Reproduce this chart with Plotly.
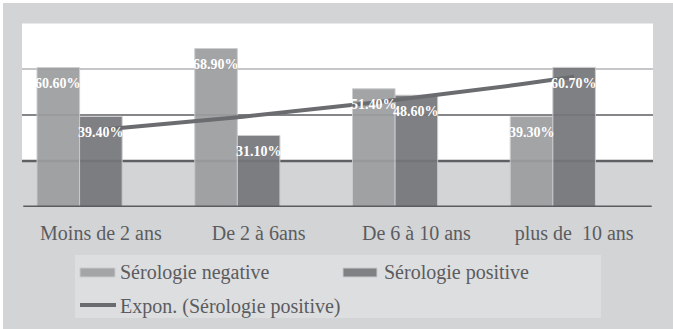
import numpy as np
import plotly.graph_objects as go

# ---- data -------------------------------------------------------------
categories = ["Moins de 2 ans", "De 2 à 6ans", "De 6 à 10 ans", "plus de \u00a010 ans"]
negative = [60.6, 68.9, 51.4, 39.3]
positive = [39.4, 31.1, 48.6, 60.7]
series_names = ["Sérologie negative", "Sérologie positive", "Expon. (Sérologie positive)"]
grid_levels = [20, 40, 60, 80]

# ---- styling ----------------------------------------------------------
W, H = 673, 329
ML, MR, MT, MB = 22, 20, 23, 122
FRAME = "#d3d4d6"
NEG_COLOR = "#9c9d9f"
POS_COLOR = "#757679"
EDGE = "#c9cacc"
TREND = "#6b6c6f"
TEXT = "#5b5c5f"
SERIF = "Liberation Serif, Times New Roman, serif"
BAR_W = 0.27
NEG_OFF = -0.405
POS_OFF = -0.135
grid_styles = {20: ("#5f6063", 2.5), 40: ("#858689", 2), 60: ("#c5c6c8", 2), 80: ("#e1e2e3", 1.5)}

pw, ph = W - ML - MR, H - MT - MB


def pxx(x):
    return (x - ML) / pw


def pxy(y):
    return (H - MB - y) / ph


x = np.arange(len(categories))

fig = go.Figure()
fig.add_trace(go.Bar(
    x=x, y=negative, name=series_names[0], width=BAR_W, offset=NEG_OFF,
    marker=dict(color=NEG_COLOR, line=dict(color=EDGE, width=1)), opacity=0.92,
    showlegend=False, hoverinfo="skip",
))
fig.add_trace(go.Bar(
    x=x, y=positive, name=series_names[1], width=BAR_W, offset=POS_OFF,
    marker=dict(color=POS_COLOR, line=dict(color=EDGE, width=1)), opacity=0.92,
    showlegend=False, hoverinfo="skip",
))

# exponential trend of the positive series (least squares on log values)
slope, intercept = np.polyfit(x, np.log(positive), 1)
xt = np.linspace(x[0], x[-1], 61)
yt = np.exp(intercept + slope * xt)
fig.add_trace(go.Scatter(
    x=xt, y=yt, mode="lines", name=series_names[2],
    line=dict(color=TREND, width=4), showlegend=False, hoverinfo="skip",
))

shapes = []
# lower band of the plot area
shapes.append(dict(type="rect", xref="paper", yref="y", x0=0, x1=1, y0=0, y1=grid_levels[0],
                   fillcolor=FRAME, line=dict(width=0), layer="below"))
for g in grid_levels:
    c, w = grid_styles[g]
    shapes.append(dict(type="line", xref="paper", yref="y", x0=0, x1=1, y0=g, y1=g,
                       line=dict(color=c, width=w), layer="below"))
# baseline
shapes.append(dict(type="line", xref="paper", yref="y", x0=0.002, x1=0.998, y0=0, y1=0,
                   line=dict(color="#5b5c5f", width=3), layer="above"))
# white page edge round the chart frame
shapes.append(dict(type="rect", xref="paper", yref="paper", x0=pxx(0), x1=pxx(W), y0=pxy(3), y1=pxy(0),
                   fillcolor="white", line=dict(width=0), layer="above"))
shapes.append(dict(type="rect", xref="paper", yref="paper", x0=pxx(0), x1=pxx(3), y0=pxy(H), y1=pxy(0),
                   fillcolor="white", line=dict(width=0), layer="above"))

# legend box
shapes.append(dict(type="rect", xref="paper", yref="paper", x0=pxx(75), x1=pxx(601), y0=pxy(318), y1=pxy(255),
                   fillcolor="#dddee0", line=dict(width=0), layer="above"))
shapes.append(dict(type="rect", xref="paper", yref="paper", x0=pxx(80), x1=pxx(115), y0=pxy(277), y1=pxy(268),
                   fillcolor="#a4a5a7", line=dict(color=EDGE, width=1), layer="above"))
shapes.append(dict(type="rect", xref="paper", yref="paper", x0=pxx(343), x1=pxx(377), y0=pxy(277), y1=pxy(268),
                   fillcolor="#808184", line=dict(color=EDGE, width=1), layer="above"))
shapes.append(dict(type="line", xref="paper", yref="paper", x0=pxx(80), x1=pxx(116), y0=pxy(305), y1=pxy(305),
                   line=dict(color=TREND, width=4), layer="above"))

annotations = []
legend_pos = [(118, 272), (382, 272), (118, 306)]
for name, (lx, ly) in zip(series_names, legend_pos):
    annotations.append(dict(text=name, xref="paper", yref="paper", x=pxx(lx), y=pxy(ly),
                            xanchor="left", yanchor="middle", showarrow=False,
                            font=dict(family=SERIF, size=20, color=TEXT)))

# value labels inside the top of each bar
for xi, v in zip(x, negative):
    annotations.append(dict(text=f"{v:.2f}%", x=xi + NEG_OFF + BAR_W / 2, y=v, yshift=-16,
                            xanchor="center", yanchor="middle", showarrow=False,
                            font=dict(family=SERIF, size=14, color="white", weight="bold")))
for xi, v in zip(x, positive):
    annotations.append(dict(text=f"{v:.2f}%", x=xi + POS_OFF + BAR_W / 2, y=v, yshift=-16,
                            xanchor="center", yanchor="middle", showarrow=False,
                            font=dict(family=SERIF, size=14, color="white", weight="bold")))

fig.update_layout(
    width=W, height=H,
    margin=dict(l=ML, r=MR, t=MT, b=MB, pad=0),
    paper_bgcolor=FRAME, plot_bgcolor="white",
    barmode="overlay",
    shapes=shapes, annotations=annotations,
    showlegend=False,
    xaxis=dict(range=[-0.5, len(categories) - 0.5], tickvals=list(x), ticktext=categories,
               showgrid=False, zeroline=False, showline=False,
               ticks="outside", ticklen=8, tickcolor="rgba(0,0,0,0)",
               tickfont=dict(family=SERIF, size=20, color=TEXT), fixedrange=True),
    yaxis=dict(range=[0, 80], showgrid=False, zeroline=False, showline=False,
               showticklabels=False, ticks="", fixedrange=True),
)

fig.write_html("out.html", config={"displayModeBar": False})
